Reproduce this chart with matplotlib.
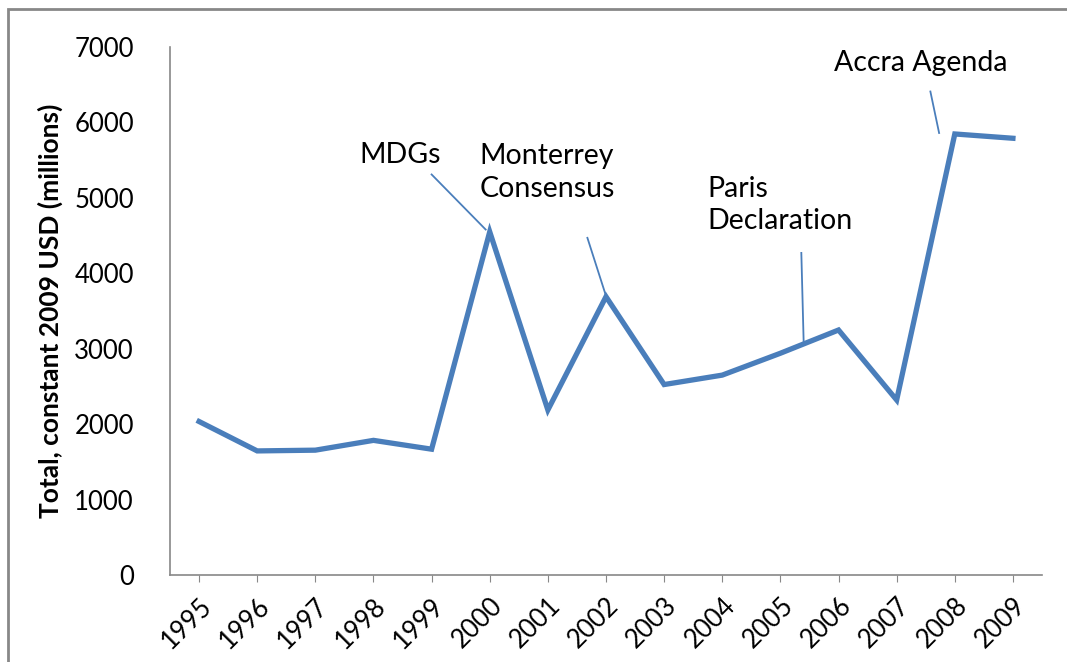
import matplotlib.pyplot as plt
from matplotlib.patches import Rectangle

years = ['1995', '1996', '1997', '1998', '1999', '2000', '2001', '2002',
         '2003', '2004', '2005', '2006', '2007', '2008', '2009']
totals = [2035, 1645, 1655, 1785, 1668, 4550, 2188, 3690,
          2525, 2650, 2940, 3248, 2320, 5847, 5790]

# event labels: (text, label position, line start, line end) in data coords
events = [
    ('MDGs', (2.76, 5568), (4.0, 5310), (4.93, 4580)),
    ('Monterrey\nConsensus', (4.83, 5336), (6.68, 4470), (7.0, 3700)),
    ('Paris\nDeclaration', (8.75, 4905), (10.36, 4270), (10.4, 3090)),
    ('Accra Agenda', (10.93, 6788), (12.58, 6410), (12.73, 5860)),
]

blue = '#4A7EBB'
font = ['Lato', 'DejaVu Sans']

fig = plt.figure(figsize=(10.67, 6.62), dpi=100)
ax = fig.add_axes([170 / 1067, 1 - 575 / 662, (1042 - 170) / 1067, (575 - 47) / 662])

x = list(range(len(years)))
ax.plot(x, totals, color=blue, lw=3.8, solid_joinstyle='miter')

for text, pos, p0, p1 in events:
    ax.plot([p0[0], p1[0]], [p0[1], p1[1]], color=blue, lw=1.3)
    ax.text(pos[0], pos[1], text, fontsize=20.5, family=font, ha='left',
            va='center', linespacing=1.32)

ax.set_xlim(-0.5, len(years) - 0.5)
ax.set_ylim(0, 7000)
ax.set_yticks(range(0, 7001, 1000))
ax.set_xticks(x)
ax.set_xticklabels(years, rotation=45, ha='right', rotation_mode='anchor',
                   fontsize=18.5, family=font)
for lab in ax.get_yticklabels():
    lab.set_fontsize(18.5)
    lab.set_family(font)
ax.tick_params(axis='y', length=0, pad=26)
ax.tick_params(axis='x', length=5, color='#888888', pad=8)

for s in ['top', 'right']:
    ax.spines[s].set_visible(False)
for s in ['left', 'bottom']:
    ax.spines[s].set_color('#888888')
    ax.spines[s].set_linewidth(1.2)

ax.set_ylabel('Total, constant 2009 USD (millions)', fontsize=19,
              fontweight='bold', family=font, labelpad=8)

fig.patches.append(Rectangle((7.5 / 1067, -0.1), 1.2, 1 - 9 / 662 + 0.1,
                             transform=fig.transFigure, fill=False,
                             edgecolor='#888888', lw=2))

fig.savefig('out.png', dpi=100)
